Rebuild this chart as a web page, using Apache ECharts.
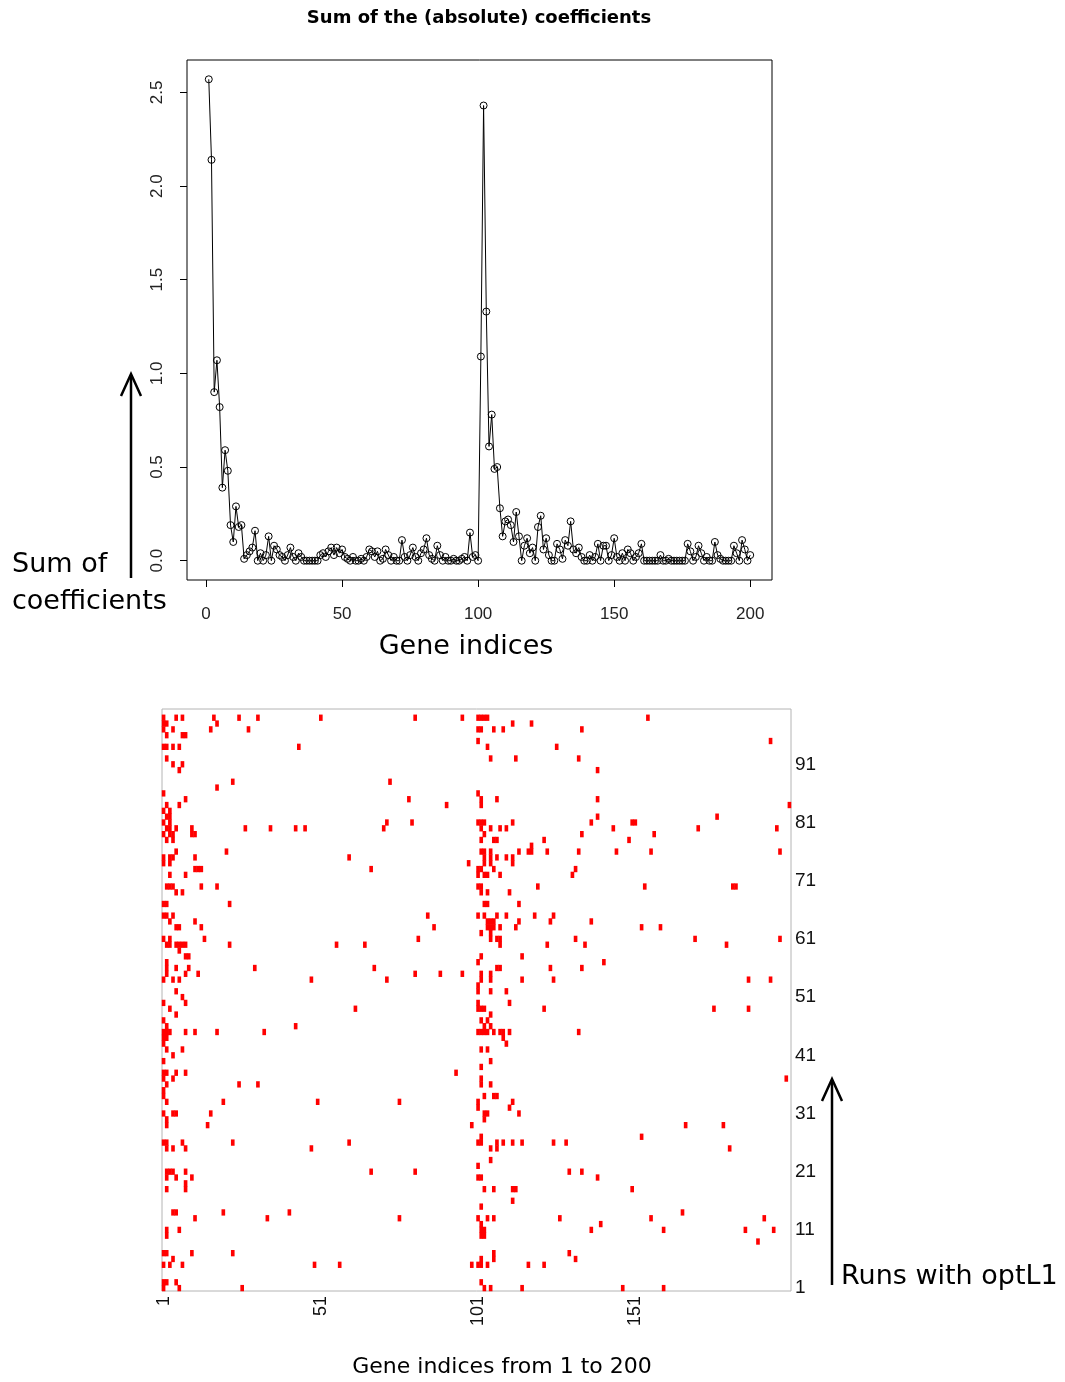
<!DOCTYPE html>
<html>
<head>
<meta charset="utf-8">
<script src="https://cdn.jsdelivr.net/npm/echarts@6/dist/echarts.min.js"></script>
<style>
  html, body { margin: 0; padding: 0; background: #ffffff; }
  #chart { width: 1065px; height: 1382px; }
</style>
</head>
<body>
<div id="chart"></div>
<script>
// Gene indices 1..200 (x categories for both panels)
const geneIndex = Array.from({ length: 200 }, (_, i) => i + 1);

// Sum of absolute coefficients per gene
const coefSum = [
  2.57, 2.14, 0.90, 1.07, 0.82, 0.39, 0.59, 0.48, 0.19, 0.10,
  0.29, 0.18, 0.19, 0.01, 0.03, 0.05, 0.07, 0.16, 0.00, 0.04,
  0.00, 0.03, 0.13, 0.00, 0.08, 0.06, 0.03, 0.02, 0.00, 0.03,
  0.07, 0.02, 0.00, 0.04, 0.02, 0.00, 0.00, 0.00, 0.00, 0.00,
  0.00, 0.03, 0.04, 0.02, 0.05, 0.07, 0.03, 0.07, 0.04, 0.06,
  0.02, 0.01, 0.00, 0.02, 0.00, 0.00, 0.01, 0.00, 0.02, 0.06,
  0.05, 0.02, 0.05, 0.00, 0.01, 0.06, 0.03, 0.00, 0.02, 0.00,
  0.00, 0.11, 0.02, 0.00, 0.03, 0.07, 0.02, 0.00, 0.04, 0.06,
  0.12, 0.03, 0.01, 0.00, 0.08, 0.03, 0.00, 0.02, 0.00, 0.00,
  0.01, 0.00, 0.00, 0.01, 0.02, 0.00, 0.15, 0.02, 0.03, 0.00,
  1.09, 2.43, 1.33, 0.61, 0.78, 0.49, 0.50, 0.28, 0.13, 0.21,
  0.22, 0.19, 0.10, 0.26, 0.13, 0.00, 0.08, 0.12, 0.04, 0.07,
  0.00, 0.18, 0.24, 0.06, 0.12, 0.03, 0.00, 0.00, 0.09, 0.06,
  0.01, 0.11, 0.08, 0.21, 0.06, 0.04, 0.07, 0.02, 0.00, 0.00,
  0.03, 0.00, 0.02, 0.09, 0.00, 0.08, 0.08, 0.00, 0.03, 0.12,
  0.02, 0.00, 0.04, 0.00, 0.06, 0.04, 0.00, 0.02, 0.04, 0.09,
  0.00, 0.00, 0.00, 0.00, 0.00, 0.00, 0.03, 0.00, 0.00, 0.01,
  0.00, 0.00, 0.00, 0.00, 0.00, 0.00, 0.09, 0.05, 0.00, 0.02,
  0.08, 0.04, 0.00, 0.02, 0.00, 0.00, 0.10, 0.03, 0.01, 0.00,
  0.00, 0.00, 0.00, 0.08, 0.04, 0.00, 0.11, 0.06, 0.00, 0.03
];

const lineXTicks = [0, 50, 100, 150, 200];
const lineYTicks = [0, 0.5, 1.0, 1.5, 2.0, 2.5];

// Runs 1..100 (y categories of the selection map)
const runIndex = Array.from({ length: 100 }, (_, i) => i + 1);

// Genes selected in each run: [run, [gene, gene, ...]]
const selectedGenes = [
  [99, [1, 5, 7, 17, 25, 31, 51, 81, 96, 101, 102, 103, 104, 155]],
  [98, [1, 2, 18, 112, 118]],
  [97, [1, 4, 16, 28, 101, 102, 106, 109, 134]],
  [96, [2, 7, 8]],
  [95, [101, 194]],
  [94, [1, 2, 4, 6, 44, 104, 126]],
  [92, [2, 105, 113, 133]],
  [91, [4, 7]],
  [90, [6, 139]],
  [88, [23, 73]],
  [87, [18]],
  [86, [1, 101]],
  [85, [8, 79, 102, 107, 139]],
  [84, [2, 6, 91, 102, 200]],
  [83, [1, 3]],
  [82, [2, 3, 139, 177]],
  [81, [1, 3, 72, 80, 101, 102, 103, 112, 137, 150, 151]],
  [80, [2, 3, 5, 10, 27, 35, 43, 46, 71, 102, 105, 108, 110, 144, 171, 196]],
  [79, [1, 3, 4, 10, 11, 103, 134, 157]],
  [78, [2, 4, 102, 106, 107, 122, 149]],
  [77, [118]],
  [76, [5, 21, 102, 103, 105, 114, 117, 118, 123, 133, 145, 156, 197]],
  [75, [1, 3, 4, 11, 60, 103, 105, 107, 110, 112]],
  [74, [1, 3, 98, 103, 105, 112]],
  [73, [11, 12, 13, 67, 101, 102, 106, 132]],
  [72, [3, 8, 101, 103, 104, 108, 131]],
  [70, [2, 3, 4, 13, 18, 101, 102, 120, 154, 182, 183]],
  [69, [5, 7, 102, 104, 111]],
  [67, [1, 2, 22, 103, 104, 114]],
  [65, [1, 2, 4, 85, 101, 103, 107, 110, 119, 125]],
  [64, [3, 11, 104, 105, 106, 114, 124, 137]],
  [63, [5, 6, 13, 87, 104, 105, 106, 108, 113, 153, 159]],
  [62, [102, 105]],
  [61, [1, 3, 14, 82, 105, 107, 108, 132, 170, 197]],
  [60, [2, 3, 5, 6, 7, 8, 22, 56, 65, 108, 123, 135, 180]],
  [59, [6]],
  [58, [8, 9, 102, 115]],
  [57, [2, 101, 141]],
  [56, [2, 5, 9, 30, 68, 107, 108, 124, 134]],
  [55, [2, 8, 12, 81, 89, 96, 102, 105]],
  [54, [1, 4, 6, 48, 72, 102, 105, 115, 125, 187, 194]],
  [53, [101]],
  [52, [5, 101, 105, 110]],
  [51, [7]],
  [50, [1, 8, 101, 111]],
  [49, [3, 62, 101, 102, 103, 122, 176, 187]],
  [48, [5, 105]],
  [47, [1, 102, 104]],
  [46, [2, 43, 103, 105]],
  [45, [1, 2, 3, 8, 11, 18, 33, 101, 102, 103, 104, 106, 108, 109, 111, 133]],
  [44, [1, 2, 109]],
  [43, [1, 110]],
  [42, [2, 7, 102, 104]],
  [41, [4]],
  [40, [1, 105]],
  [39, [102]],
  [38, [1, 2, 5, 8, 94]],
  [37, [1, 4, 102, 199]],
  [36, [2, 25, 31, 102, 105]],
  [35, [1]],
  [34, [1, 103, 106, 107]],
  [33, [2, 20, 50, 76, 101, 112]],
  [32, [101, 111]],
  [31, [1, 4, 5, 16, 103, 104, 114]],
  [30, [2, 103]],
  [29, [2, 15, 99, 167, 179]],
  [27, [102, 153]],
  [26, [1, 2, 7, 23, 60, 101, 102, 107, 109, 112, 115, 125, 129]],
  [25, [2, 4, 8, 48, 105, 107, 181]],
  [23, [105]],
  [22, [101]],
  [21, [2, 3, 4, 8, 67, 81, 130, 134]],
  [20, [2, 5, 10, 101, 102, 139]],
  [19, [8]],
  [18, [2, 8, 103, 106, 112, 113, 150]],
  [16, [112]],
  [15, [102]],
  [14, [4, 5, 20, 41, 166]],
  [13, [11, 34, 76, 101, 104, 106, 127, 156, 192]],
  [12, [102, 140]],
  [11, [2, 6, 102, 103, 137, 160, 186, 195]],
  [10, [2, 102, 103]],
  [9, [190]],
  [7, [1, 2, 10, 23, 106, 130]],
  [6, [4, 102, 106, 132]],
  [5, [1, 3, 7, 49, 57, 99, 101, 102, 104, 117, 122]],
  [2, [1, 2, 5, 102]],
  [1, [1, 6, 26, 103, 105, 115, 147, 160]]
];

// Build chart data
const lineData = coefSum.map((v, i) => [geneIndex[i], v]);
const cellData = [];
selectedGenes.forEach(([run, genes]) => {
  genes.forEach(g => cellData.push([g - 1, run - 1, 1]));
});

const chart = echarts.init(document.getElementById('chart'), null, { renderer: 'canvas' });

const tickFont = { fontFamily: 'Liberation Sans, Arial, sans-serif', fontSize: 17, color: '#222' };
const bigFont = 'DejaVu Sans, sans-serif';

chart.setOption({
  animation: false,
  backgroundColor: '#ffffff',
  grid: [
    { left: 187, top: 60, width: 585, height: 520, show: true, borderColor: '#000', borderWidth: 1, backgroundColor: 'transparent' },
    { left: 162, top: 709, width: 629, height: 582, show: true, borderColor: '#b4b4b4', borderWidth: 1, backgroundColor: 'transparent' }
  ],
  xAxis: [
    {
      type: 'value', gridIndex: 0, min: -7, max: 208,
      axisLine: { show: false, onZero: false },
      splitLine: { show: false },
      axisTick: { show: true, length: 7, customValues: lineXTicks, lineStyle: { color: '#000' } },
      axisLabel: { show: true, customValues: lineXTicks, margin: 26, ...tickFont }
    },
    {
      type: 'category', gridIndex: 1, data: geneIndex.map(String),
      axisLine: { show: false }, axisTick: { show: false }, splitLine: { show: false },
      axisLabel: {
        interval: (i) => i % 50 === 0, rotate: 90, margin: 5,
        fontFamily: 'Liberation Sans, Arial, sans-serif', fontSize: 18, color: '#111'
      }
    }
  ],
  yAxis: [
    {
      type: 'value', gridIndex: 0, min: -0.103, max: 2.673,
      axisLine: { show: false, onZero: false },
      splitLine: { show: false },
      axisTick: { show: true, length: 7, customValues: lineYTicks, lineStyle: { color: '#000' } },
      axisLabel: { show: true, customValues: lineYTicks, rotate: 90, margin: 21, formatter: v => v.toFixed(1), ...tickFont }
    },
    {
      type: 'category', gridIndex: 1, position: 'right', data: runIndex.map(String),
      axisLine: { show: false }, axisTick: { show: false }, splitLine: { show: false },
      axisLabel: {
        interval: (i) => i % 10 === 0, margin: 4,
        fontFamily: 'Liberation Sans, Arial, sans-serif', fontSize: 19, color: '#111'
      }
    }
  ],
  visualMap: {
    show: false, seriesIndex: 1, min: 0, max: 1,
    inRange: { color: ['#ff0000', '#ff0000'] }
  },
  series: [
    {
      type: 'line', xAxisIndex: 0, yAxisIndex: 0, data: lineData,
      symbol: 'circle', symbolSize: 7, showSymbol: true,
      lineStyle: { color: '#000', width: 1 },
      itemStyle: { color: 'rgba(255,255,255,0)', borderColor: '#000', borderWidth: 1 },
      emphasis: { disabled: true }
    },
    {
      type: 'heatmap', xAxisIndex: 1, yAxisIndex: 1, data: cellData,
      itemStyle: { color: '#ff0000' },
      emphasis: { disabled: true }
    }
  ],
  graphic: [
    {
      type: 'text', x: 479, y: 18,
      style: { text: 'Sum of the (absolute) coefficients', align: 'center', verticalAlign: 'middle', fontFamily: 'DejaVu Sans, sans-serif', fontWeight: 'bold', fontSize: 18, fill: '#000' }
    },
    {
      type: 'text', x: 466, y: 647,
      style: { text: 'Gene indices', align: 'center', verticalAlign: 'middle', fontFamily: bigFont, fontSize: 27, fill: '#000' }
    },
    {
      type: 'text', x: 12, y: 565,
      style: { text: 'Sum of', align: 'left', verticalAlign: 'middle', fontFamily: bigFont, fontSize: 27, fill: '#000' }
    },
    {
      type: 'text', x: 12, y: 602,
      style: { text: 'coefficients', align: 'left', verticalAlign: 'middle', fontFamily: bigFont, fontSize: 27, fill: '#000' }
    },
    // upward arrow beside the y axis
    { type: 'line', shape: { x1: 131, y1: 578, x2: 131, y2: 375 }, style: { stroke: '#000', lineWidth: 2.5 } },
    { type: 'polyline', shape: { points: [[121, 396], [131, 374], [141, 396]] }, style: { stroke: '#000', lineWidth: 2.5, fill: null } },
    {
      type: 'text', x: 502, y: 1367,
      style: { text: 'Gene indices from 1 to 200', align: 'center', verticalAlign: 'middle', fontFamily: bigFont, fontSize: 22, fill: '#000' }
    },
    // upward arrow beside the run labels
    { type: 'line', shape: { x1: 832, y1: 1285, x2: 832, y2: 1080 }, style: { stroke: '#000', lineWidth: 2.5 } },
    { type: 'polyline', shape: { points: [[822, 1101], [832, 1079], [842, 1101]] }, style: { stroke: '#000', lineWidth: 2.5, fill: null } },
    {
      type: 'text', x: 841, y: 1277,
      style: { text: 'Runs with optL1', align: 'left', verticalAlign: 'middle', fontFamily: bigFont, fontSize: 27, fill: '#000' }
    }
  ]
});
</script>
</body>
</html>
